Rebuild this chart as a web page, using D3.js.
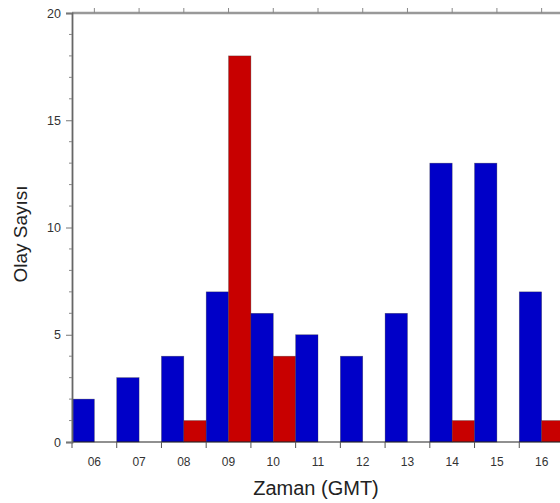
<!DOCTYPE html>
<html>
<head>
<meta charset="utf-8">
<script src="https://cdn.jsdelivr.net/npm/d3@7"></script>
<style>
    body { margin: 0; background: #fff; }
    svg { display: block; font-family: "Liberation Sans", Arial, sans-serif; }
</style>
</head>
<body>
<div id="chart"></div>
<script>
    // hours (GMT) and event counts per series
    const hours = ["06", "07", "08", "09", "10", "11", "12", "13", "14", "15", "16"];
    const blueCounts = [2, 3, 4, 7, 6, 5, 4, 6, 13, 13, 7];
    const redCounts = [0, 0, 1, 18, 4, 0, 0, 0, 1, 0, 1];
    const yMajorTicks = [0, 5, 10, 15, 20];

    const margin = { top: 13, left: 72, bottom: 61 };
    const totalW = 560, totalH = 503;
    const plotW = 492; // plot runs past the right edge of the picture
    const height = totalH - margin.top - margin.bottom;

    const x = d3.scaleBand()
        .domain(hours)
        .range([0, plotW]);

    const sub = d3.scaleBand()
        .domain(["blue", "red"])
        .range([0, x.bandwidth()]);

    const y = d3.scaleLinear()
        .domain([0, 20])
        .range([height, 0]);

    const colors = { blue: "#0000c8", red: "#c80000" };

    const svg = d3.select("#chart")
        .append("svg")
        .attr("width", totalW)
        .attr("height", totalH);

    const g = svg.append("g")
        .attr("transform", `translate(${margin.left}, ${margin.top})`);

    const rows = hours.map((h, i) => ({ hour: h, blue: blueCounts[i], red: redCounts[i] }));

    // bars
    const groups = g.selectAll(".grp")
        .data(rows)
        .enter()
        .append("g")
        .attr("class", "grp")
        .attr("transform", d => `translate(${x(d.hour)}, 0)`);

    groups.selectAll("rect")
        .data(d => ["blue", "red"].map(k => ({ key: k, value: d[k] })).filter(e => e.value > 0))
        .enter()
        .append("rect")
        .attr("x", d => sub(d.key))
        .attr("width", sub.bandwidth())
        .attr("y", d => y(d.value))
        .attr("height", d => height - y(d.value))
        .attr("fill", d => colors[d.key])
        .attr("stroke", "#333")
        .attr("stroke-opacity", 0.5)
        .attr("stroke-width", 0.6);

    // bottom axis: ticks at the group boundaries, labels at the centres
    const bottomAxis = g.append("g")
        .attr("transform", `translate(0, ${height})`);
    bottomAxis.append("line")
        .attr("x1", 0).attr("x2", plotW)
        .attr("stroke", "#222").attr("stroke-width", 1.2);
    bottomAxis.selectAll(".btick")
        .data(hours)
        .enter()
        .append("line")
        .attr("x1", d => x(d)).attr("x2", d => x(d))
        .attr("y1", 0).attr("y2", 6)
        .attr("stroke", "#555");
    bottomAxis.selectAll(".blabel")
        .data(hours)
        .enter()
        .append("text")
        .attr("x", d => x(d) + x.bandwidth() / 2)
        .attr("y", 24)
        .attr("text-anchor", "middle")
        .attr("font-size", 12)
        .attr("fill", "#333")
        .text(d => d);

    // top axis: grey line with ticks at group centres
    const topAxis = g.append("g");
    topAxis.append("line")
        .attr("x1", 0).attr("x2", plotW)
        .attr("stroke", "#999").attr("stroke-width", 2.5);
    topAxis.selectAll(".ttick")
        .data(hours)
        .enter()
        .append("line")
        .attr("x1", d => x(d) + x.bandwidth() / 2)
        .attr("x2", d => x(d) + x.bandwidth() / 2)
        .attr("y1", 0).attr("y2", -5)
        .attr("stroke", "#888");

    // left axis with minor ticks at every unit
    const yAxis = d3.axisLeft(y)
        .tickValues(yMajorTicks)
        .tickSize(6)
        .tickPadding(5);
    const leftAxis = g.append("g").call(yAxis);
    leftAxis.select(".domain").attr("stroke", "#666").attr("stroke-width", 1.8);
    leftAxis.selectAll(".tick line").attr("stroke", "#777");
    leftAxis.selectAll(".tick text")
        .attr("font-size", 12.5)
        .attr("fill", "#333")
        .attr("font-family", "Liberation Sans, Arial, sans-serif");

    leftAxis.selectAll(".minor")
        .data(d3.range(0, 21).filter(v => v % 5 !== 0))
        .enter()
        .append("line")
        .attr("x1", -3).attr("x2", 0)
        .attr("y1", d => y(d)).attr("y2", d => y(d))
        .attr("stroke", "#888");

    // titles
    svg.append("text")
        .attr("x", margin.left + plotW / 2 - 2)
        .attr("y", 495)
        .attr("text-anchor", "middle")
        .attr("font-size", 20)
        .attr("fill", "#222")
        .text("Zaman (GMT)");

    svg.append("text")
        .attr("transform", `translate(27, 234) rotate(-90)`)
        .attr("text-anchor", "middle")
        .attr("font-size", 19)
        .attr("fill", "#222")
        .text("Olay Sayısı");
</script>
</body>
</html>
